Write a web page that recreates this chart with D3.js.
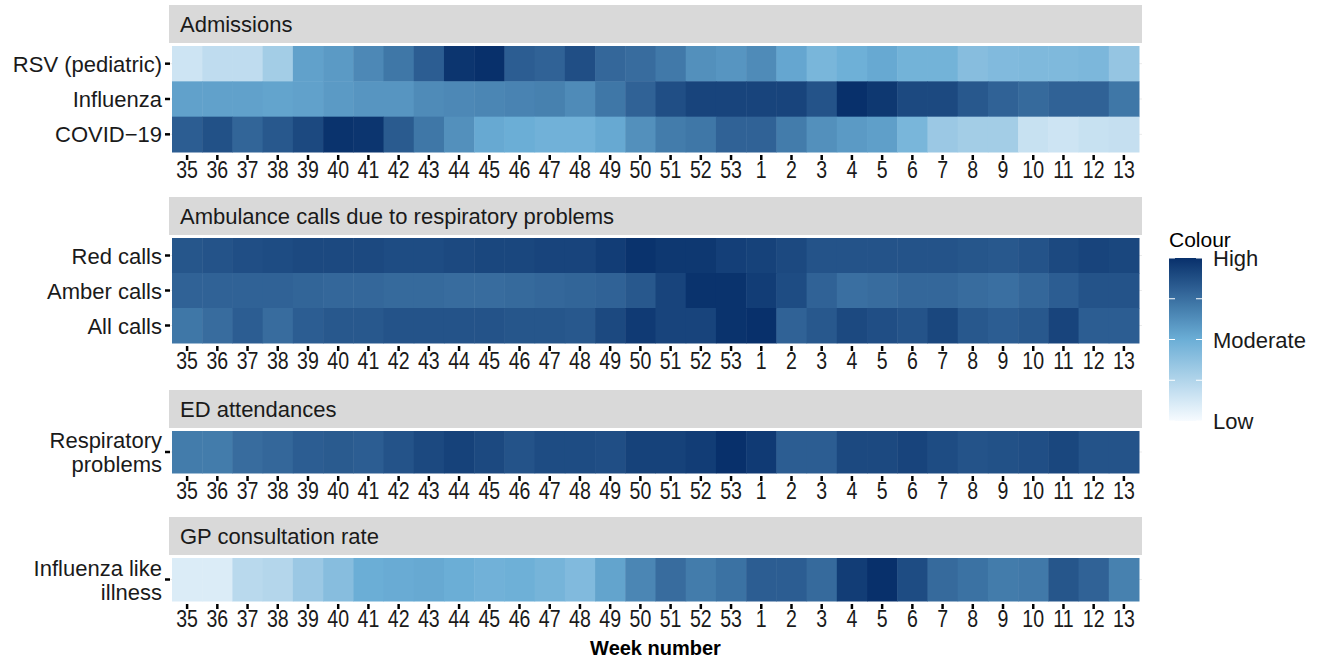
<!DOCTYPE html>
<html>
<head>
<meta charset="utf-8">
<script src="https://cdn.jsdelivr.net/npm/d3@7"></script>
<style>
  body { margin: 0; background: #fff; }
  text { font-family: "Liberation Sans", Arial, sans-serif; }
</style>
</head>
<body>
<div id="chart"></div>
<script>
var weeks = ["35","36","37","38","39","40","41","42","43","44","45","46","47","48","49","50","51","52","53",
             "1","2","3","4","5","6","7","8","9","10","11","12","13"];

// relative level, 0 = low, 1 = high
var rsv       = [0.15,0.2,0.2,0.3,0.55,0.58,0.65,0.72,0.82,0.98,1.0,0.82,0.8,0.88,0.78,0.76,0.71,0.62,0.6,0.64,0.53,0.45,0.49,0.52,0.47,0.47,0.4,0.42,0.43,0.43,0.44,0.35];
var influenza = [0.55,0.55,0.55,0.54,0.55,0.58,0.6,0.6,0.64,0.65,0.66,0.67,0.68,0.64,0.72,0.8,0.88,0.92,0.92,0.92,0.92,0.86,1.0,0.97,0.9,0.9,0.84,0.8,0.77,0.8,0.8,0.72];
var covid     = [0.82,0.87,0.79,0.84,0.9,0.99,0.98,0.83,0.72,0.62,0.52,0.5,0.48,0.48,0.52,0.62,0.7,0.72,0.8,0.8,0.7,0.62,0.58,0.56,0.45,0.33,0.3,0.3,0.17,0.15,0.17,0.18];

var redCalls   = [0.85,0.86,0.88,0.89,0.9,0.9,0.9,0.89,0.89,0.9,0.91,0.91,0.92,0.92,0.95,0.99,0.97,0.97,0.94,0.93,0.9,0.86,0.86,0.86,0.86,0.86,0.85,0.84,0.86,0.9,0.92,0.91];
var amberCalls = [0.8,0.8,0.8,0.8,0.79,0.78,0.78,0.77,0.77,0.76,0.76,0.77,0.78,0.79,0.8,0.84,0.92,0.99,0.99,0.95,0.89,0.8,0.75,0.76,0.78,0.78,0.76,0.75,0.78,0.82,0.86,0.86];
var allCalls   = [0.72,0.76,0.82,0.76,0.82,0.84,0.84,0.86,0.86,0.86,0.86,0.85,0.85,0.84,0.9,0.96,0.92,0.92,0.99,1.0,0.8,0.84,0.9,0.88,0.86,0.91,0.84,0.82,0.84,0.92,0.82,0.82];

var edResp = [0.7,0.7,0.76,0.78,0.82,0.83,0.82,0.86,0.9,0.93,0.9,0.86,0.89,0.89,0.88,0.93,0.93,0.95,1.0,0.96,0.82,0.82,0.9,0.9,0.92,0.89,0.86,0.87,0.88,0.91,0.86,0.86];
var gpIli  = [0.1,0.1,0.22,0.24,0.33,0.4,0.5,0.51,0.52,0.5,0.48,0.49,0.46,0.42,0.54,0.66,0.76,0.7,0.74,0.82,0.82,0.77,0.95,1.0,0.89,0.77,0.74,0.7,0.71,0.85,0.8,0.68];

var panelTitles = ["Admissions", "Ambulance calls due to respiratory problems", "ED attendances", "GP consultation rate"];
var panelRows = [
    [["RSV (pediatric)"], ["Influenza"], ["COVID\u221219"]],
    [["Red calls"], ["Amber calls"], ["All calls"]],
    [["Respiratory", "problems"]],
    [["Influenza like", "illness"]]
];
var panelValues = [[rsv, influenza, covid], [redCalls, amberCalls, allCalls], [edResp], [gpIli]];

var legendLabels = ["Low", "Moderate", "High"];

// layout
var W = 1323, H = 662;
var stripX0 = 169, stripX1 = 1142;
var cellX0 = 172, cellX1 = 1139;
var panelTops = [5, 197, 390, 517];     // strip top
var stripH = 38;
var cellsH = [106, 105, 42, 43];

var svg = d3.select("#chart").append("svg")
    .attr("width", W)
    .attr("height", H);

var color = d3.scaleLinear()
    .domain([0, 0.5, 1])
    .range(["#f7fbff", "#6baed6", "#08306b"]);

var xScale = d3.scaleBand()
    .domain(weeks)
    .range([cellX0, cellX1])
    .padding(0);

function drawPanel(p) {
    var g = svg.append("g");
    var pTop = panelTops[p];
    var cellTop = pTop + stripH + 3;
    var rows = panelRows[p].map(function (r) { return r.join(" "); });

    var yScale = d3.scaleBand()
        .domain(rows)
        .range([cellTop, cellTop + cellsH[p]]);

    // strip
    g.append("rect")
        .attr("x", stripX0).attr("y", pTop)
        .attr("width", stripX1 - stripX0).attr("height", stripH)
        .attr("fill", "#d9d9d9");
    g.append("text")
        .attr("x", stripX0 + 11).attr("y", pTop + stripH / 2 + 8)
        .attr("font-size", 22)
        .attr("fill", "#1a1a1a")
        .text(panelTitles[p]);

    // faint grid lines
    rows.forEach(function (r) {
        var cy = yScale(r) + yScale.bandwidth() / 2;
        g.append("line")
            .attr("x1", stripX0).attr("x2", stripX1)
            .attr("y1", cy).attr("y2", cy)
            .attr("stroke", "#ebebeb").attr("stroke-width", 1);
    });

    // tiles
    panelValues[p].forEach(function (vals, ri) {
        g.selectAll(null)
            .data(vals)
            .enter()
            .append("rect")
            .attr("x", function (d, i) { return xScale(weeks[i]); })
            .attr("y", yScale(rows[ri]))
            .attr("width", xScale.bandwidth() + 0.5)
            .attr("height", yScale.bandwidth() + 0.5)
            .attr("fill", function (d) { return color(d); });
    });

    // x axis
    var xa = g.append("g")
        .attr("transform", "translate(0," + (cellTop + cellsH[p] + 3) + ")")
        .call(d3.axisBottom(xScale).tickSize(5).tickPadding(2));
    xa.select(".domain").remove();
    xa.selectAll(".tick line").attr("stroke", "#000").attr("stroke-width", 2.5);
    xa.selectAll(".tick text")
        .attr("font-size", 23)
        .attr("font-family", "Liberation Sans, Arial, sans-serif")
        .attr("transform", "scale(0.85,1)")
        .attr("fill", "#1a1a1a");

    // y labels and ticks
    panelRows[p].forEach(function (lines, ri) {
        var cy = yScale(rows[ri]) + yScale.bandwidth() / 2;
        g.append("line")
            .attr("x1", 165).attr("x2", 170)
            .attr("y1", cy).attr("y2", cy)
            .attr("stroke", "#000").attr("stroke-width", 2.5);
        var t = g.append("text")
            .attr("text-anchor", "end")
            .attr("font-size", 22)
            .attr("fill", "#1a1a1a");
        lines.forEach(function (ln, li) {
            t.append("tspan")
                .attr("x", 162)
                .attr("y", cy + 8 + (li - (lines.length - 1) / 2) * 24)
                .text(ln);
        });
    });
}

for (var p = 0; p < panelTitles.length; p++) drawPanel(p);

// x title
svg.append("text")
    .attr("x", (cellX0 + cellX1) / 2)
    .attr("y", 655)
    .attr("text-anchor", "middle")
    .attr("font-size", 20)
    .attr("font-weight", "bold")
    .attr("fill", "#000")
    .text("Week number");

// legend
var lg = svg.append("g");
var legTop = 258, legBot = 421, legX = 1169, legW = 33;
var grad = svg.append("defs").append("linearGradient")
    .attr("id", "lgrad")
    .attr("x1", 0).attr("y1", 1).attr("x2", 0).attr("y2", 0);
d3.range(0, 1.0001, 0.1).forEach(function (v) {
    grad.append("stop").attr("offset", v).attr("stop-color", color(v));
});
lg.append("text")
    .attr("x", legX).attr("y", 247)
    .attr("font-size", 21)
    .attr("fill", "#000")
    .text("Colour");
lg.append("rect")
    .attr("x", legX).attr("y", legTop)
    .attr("width", legW).attr("height", legBot - legTop)
    .attr("fill", "url(#lgrad)");

var ly = d3.scaleLinear().domain([0, 1]).range([legBot, legTop]);
[0, 0.25, 0.5, 0.75, 1].forEach(function (v) {
    lg.append("line")
        .attr("x1", legX).attr("x2", legX + 6)
        .attr("y1", ly(v)).attr("y2", ly(v))
        .attr("stroke", "#fff").attr("stroke-width", 1);
    lg.append("line")
        .attr("x1", legX + legW - 6).attr("x2", legX + legW)
        .attr("y1", ly(v)).attr("y2", ly(v))
        .attr("stroke", "#fff").attr("stroke-width", 1);
});
legendLabels.forEach(function (lab, i) {
    lg.append("text")
        .attr("x", 1213)
        .attr("y", ly(i / 2) + 8)
        .attr("font-size", 22)
        .attr("fill", "#1a1a1a")
        .text(lab);
});
</script>
</body>
</html>
